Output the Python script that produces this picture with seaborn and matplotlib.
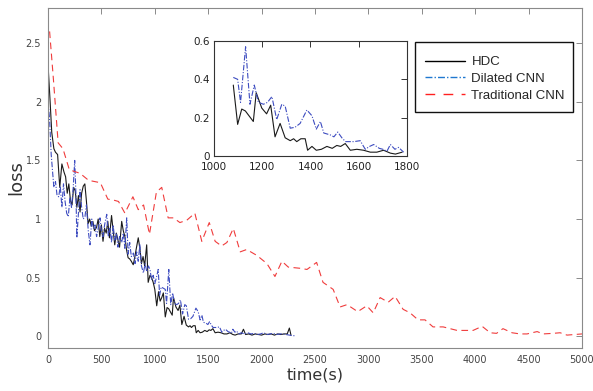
import numpy as np
import pandas as pd
import matplotlib
matplotlib.use("Agg")
import matplotlib.pyplot as plt
import seaborn as sns
from matplotlib.lines import Line2D
from matplotlib.patches import Rectangle

# ---------------- data ----------------
hdc_t = [0, 20, 35, 55, 70, 90, 110, 130, 150, 165, 180, 195, 210, 225, 240, 255, 270, 285,
         300, 315, 330, 345, 360, 375, 390, 405, 420, 435, 455, 470, 485, 500, 515, 530, 545,
         560, 575, 595, 610, 625, 640, 655, 670, 690, 705, 720, 735, 750, 765, 780, 798, 810,
         825, 845, 860, 875, 890, 905, 924, 938, 955, 970, 985, 1000, 1018, 1035, 1050, 1065,
         1080, 1098, 1115, 1130, 1145, 1163, 1175, 1198, 1218, 1235, 1253, 1274, 1295, 1316,
         1330, 1343, 1360, 1378, 1388, 1406, 1424, 1445, 1468, 1490, 1509, 1525, 1544, 1565,
         1592, 1620, 1648, 1675, 1703, 1731, 1752, 1780, 1810, 1830, 1850, 1880, 1910, 1940,
         1970, 2000, 2030, 2060, 2090, 2120, 2150, 2180, 2210, 2240, 2260, 2275]
hdc_loss = [2.32, 2.00, 1.74, 1.60, 1.57, 1.55, 1.27, 1.47, 1.40, 1.36, 1.22, 1.30, 1.16, 1.12,
            1.27, 1.24, 1.10, 1.20, 1.06, 1.22, 1.28, 1.30, 1.15, 0.96, 1.00, 0.94, 0.98, 0.90,
            0.93, 1.00, 0.85, 0.95, 0.81, 0.92, 0.88, 0.98, 0.84, 1.03, 0.90, 0.78, 0.88, 0.82,
            0.76, 0.98, 0.90, 0.85, 0.74, 0.67, 0.66, 0.64, 0.61, 0.66, 0.74, 0.84, 0.75, 0.62,
            0.68, 0.60, 0.78, 0.46, 0.52, 0.50, 0.46, 0.40, 0.26, 0.38, 0.30, 0.33, 0.37, 0.165,
            0.245, 0.235, 0.21, 0.18, 0.33, 0.25, 0.22, 0.265, 0.10, 0.17, 0.095, 0.08, 0.09,
            0.075, 0.09, 0.09, 0.03, 0.05, 0.03, 0.035, 0.05, 0.04, 0.055, 0.05, 0.065, 0.03,
            0.035, 0.03, 0.02, 0.02, 0.03, 0.015, 0.01, 0.02, 0.02, 0.06, 0.015, 0.02, 0.01,
            0.02, 0.015, 0.01, 0.02, 0.015, 0.02, 0.01, 0.02, 0.015, 0.02, 0.02, 0.07, 0.01]

dil_t = [0, 15, 30, 45, 55, 70, 85, 100, 115, 130, 145, 160, 175, 190, 205, 220, 235, 250, 262,
         270, 285, 300, 315, 330, 346, 360, 377, 393, 410, 425, 440, 455, 470, 487, 500, 515,
         530, 550, 565, 580, 595, 610, 625, 640, 655, 670, 690, 705, 720, 737, 750, 765, 780,
         800, 815, 830, 845, 860, 875, 893, 910, 925, 940, 955, 970, 985, 1000, 1015, 1032,
         1045, 1060, 1080, 1098, 1110, 1131, 1149, 1167, 1184, 1205, 1222, 1240, 1260, 1281,
         1295, 1316, 1336, 1357, 1385, 1406, 1424, 1441, 1455, 1482, 1497, 1513, 1530, 1545,
         1580, 1606, 1627, 1645, 1662, 1685, 1700, 1717, 1731, 1750, 1765, 1786, 1810, 1840,
         1870, 1900, 1930, 1960, 1990, 2020, 2050, 2080, 2110, 2140, 2170, 2200, 2230, 2260,
         2290, 2320]
dil_loss = [2.00, 1.85, 1.55, 1.38, 1.27, 1.32, 1.20, 1.19, 1.28, 1.10, 1.30, 1.15, 1.05, 1.02,
            1.18, 1.10, 1.25, 1.50, 1.20, 0.84, 1.05, 1.25, 1.10, 1.00, 1.02, 1.12, 0.90, 0.78,
            1.00, 0.92, 0.95, 0.85, 0.92, 1.01, 0.90, 0.85, 0.95, 1.04, 0.85, 0.92, 0.80, 0.95,
            0.82, 0.88, 0.76, 0.85, 0.80, 0.88, 0.75, 1.01, 0.70, 0.80, 0.68, 0.71, 0.62, 0.72,
            0.64, 0.78, 0.60, 0.54, 0.62, 0.55, 0.60, 0.57, 0.48, 0.52, 0.45, 0.50, 0.57, 0.35,
            0.42, 0.41, 0.40, 0.28, 0.57, 0.27, 0.37, 0.28, 0.27, 0.28, 0.31, 0.19, 0.27, 0.26,
            0.145, 0.15, 0.17, 0.24, 0.21, 0.14, 0.18, 0.12, 0.11, 0.10, 0.125, 0.095, 0.075,
            0.075, 0.08, 0.035, 0.05, 0.06, 0.04, 0.035, 0.025, 0.06, 0.035, 0.045, 0.02, 0.03,
            0.02, 0.03, 0.02, 0.025, 0.015, 0.02, 0.03, 0.015, 0.02, 0.025, 0.015, 0.02, 0.02,
            0.015, 0.01, 0.005, 0.005]

trad_t = [15, 50, 95, 140, 200, 300, 380, 490, 560, 620, 660, 720, 795, 845, 895, 950, 1015,
          1065, 1125, 1175, 1235, 1300, 1375, 1440, 1510, 1565, 1625, 1675, 1735, 1800, 1860,
          1955, 2050, 2125, 2190, 2250, 2360, 2425, 2515, 2575, 2670, 2735, 2800, 2900, 2985,
          3045, 3110, 3185, 3250, 3325, 3390, 3465, 3530, 3605, 3700, 3830, 3980, 4065, 4140,
          4200, 4260, 4345, 4420, 4485, 4580, 4635, 4730, 4795, 4860, 5000]
trad_loss = [2.60, 2.20, 1.65, 1.60, 1.42, 1.39, 1.33, 1.31, 1.17, 1.16, 1.15, 1.05, 1.19,
             1.08, 1.12, 0.87, 1.23, 1.27, 1.01, 1.01, 0.97, 0.99, 1.05, 0.81, 0.97, 0.81,
             0.77, 0.80, 0.92, 0.72, 0.74, 0.69, 0.62, 0.51, 0.64, 0.59, 0.58, 0.57, 0.63,
             0.46, 0.40, 0.25, 0.27, 0.21, 0.26, 0.20, 0.33, 0.29, 0.34, 0.23, 0.20, 0.14,
             0.14, 0.08, 0.08, 0.05, 0.05, 0.085, 0.03, 0.025, 0.065, 0.03, 0.02, 0.02, 0.04,
             0.02, 0.025, 0.03, 0.01, 0.02]

labels = ["HDC", "Dilated CNN", "Traditional CNN"]
main_xticks = [0, 500, 1000, 1500, 2000, 2500, 3000, 3500, 4000, 4500, 5000]
main_yticks = [0, 0.5, 1, 1.5, 2, 2.5]
inset_xticks = [1000, 1200, 1400, 1600, 1800]
inset_yticks = [0, 0.2, 0.4, 0.6]
inset_window = (1080, 1790)   # time range drawn in the zoomed inset

# ---------------- style ----------------
sns.set_theme(style="white")
plt.rcParams['font.family'] = ['DejaVu Sans']

line_col = {"HDC": "#1a1a1a", "Dilated CNN": "#3d4cc0", "Traditional CNN": "#f03c3c"}
leg_col = {"HDC": "#000000", "Dilated CNN": "#1f78d0", "Traditional CNN": "#ff2020"}
dash_blue = (0, (5, 1.5, 1, 1.5))
dash_red = (0, (6, 4))

W, H = 593, 391
fig = plt.figure(figsize=(W / 100, H / 100), dpi=100)
fig.patch.set_facecolor("white")

ax = fig.add_axes([48 / W, (H - 348) / H, 534 / W, 340 / H])

df_h = pd.DataFrame({"t": hdc_t, "loss": hdc_loss})
df_d = pd.DataFrame({"t": dil_t, "loss": dil_loss})
df_r = pd.DataFrame({"t": trad_t, "loss": trad_loss})


def draw(a, lw, dh, dd, dr):
    sns.lineplot(data=dh, x="t", y="loss", ax=a, color=line_col["HDC"], lw=lw,
                 linestyle="-", estimator=None)
    sns.lineplot(data=dd, x="t", y="loss", ax=a, color=line_col["Dilated CNN"], lw=lw,
                 linestyle=dash_blue, estimator=None)
    if dr is not None:
        sns.lineplot(data=dr, x="t", y="loss", ax=a, color=line_col["Traditional CNN"], lw=lw,
                     linestyle=dash_red, estimator=None)


def style_axes(a, lsize, pad):
    for s in a.spines.values():
        s.set_color("#8a8a8a")
        s.set_linewidth(0.8)
        s.set_visible(True)
    a.tick_params(direction="in", top=True, right=True, length=4, width=0.7,
                  color="#8a8a8a", labelcolor="#444444", labelsize=lsize, pad=pad)
    a.set_facecolor("white")


draw(ax, 0.8, df_h, df_d, df_r)
ax.set_xlim(0, 5000)
ax.set_ylim(-0.1, 2.8)
ax.set_xticks(main_xticks)
ax.set_xticklabels([str(v) for v in main_xticks])
ax.set_yticks(main_yticks)
ax.set_yticklabels(["0", "0.5", "1", "1.5", "2", "2.5"])
style_axes(ax, 7.0, 5)
ax.set_xlabel("time(s)", fontsize=11.5, color="#333333", labelpad=2)
ax.set_ylabel("loss", fontsize=13, color="#333333")
ax.yaxis.set_label_coords(-0.042, 0.5)

# inset (zoom of the 1080-1790 s window)
lo, hi = inset_window
sel = lambda d: d[(d["t"] >= lo) & (d["t"] <= hi)]
axi = fig.add_axes([214 / W, (H - 156) / H, 193 / W, 115 / H])
draw(axi, 0.8, sel(df_h), sel(df_d), None)
axi.set_xlim(1000, 1800)
axi.set_ylim(0, 0.6)
axi.set_xticks(inset_xticks)
axi.set_xticklabels([str(v) for v in inset_xticks])
axi.set_yticks(inset_yticks)
axi.set_yticklabels(["0", "0.2", "0.4", "0.6"])
style_axes(axi, 7.5, 3)
axi.tick_params(axis="x", pad=4.5)
for s in axi.spines.values():
    s.set_color("#333333")
axi.tick_params(color="#333333", labelcolor="#222222")
axi.set_xlabel("")
axi.set_ylabel("")

# legend
fig.add_artist(Rectangle((415 / W, (H - 112) / H), 158 / W, 70 / H, transform=fig.transFigure,
                         facecolor="white", edgecolor="#111111", lw=1.0, zorder=5))
handles = [
    Line2D([], [], color=leg_col["HDC"], lw=1.0, linestyle="-"),
    Line2D([], [], color=leg_col["Dilated CNN"], lw=1.0, linestyle=dash_blue),
    Line2D([], [], color=leg_col["Traditional CNN"], lw=1.0, linestyle=(0, (7, 6))),
]
leg = fig.legend(handles, labels, loc="center left", bbox_to_anchor=(416 / W, (H - 79) / H),
                 frameon=False, handlelength=3.0, handletextpad=0.5,
                 labelspacing=0.35, borderpad=0.2,
                 prop={"family": ["Liberation Sans", "DejaVu Sans"], "size": 9.5})
leg.set_zorder(6)

fig.savefig("out.png", dpi=100, facecolor="white")
